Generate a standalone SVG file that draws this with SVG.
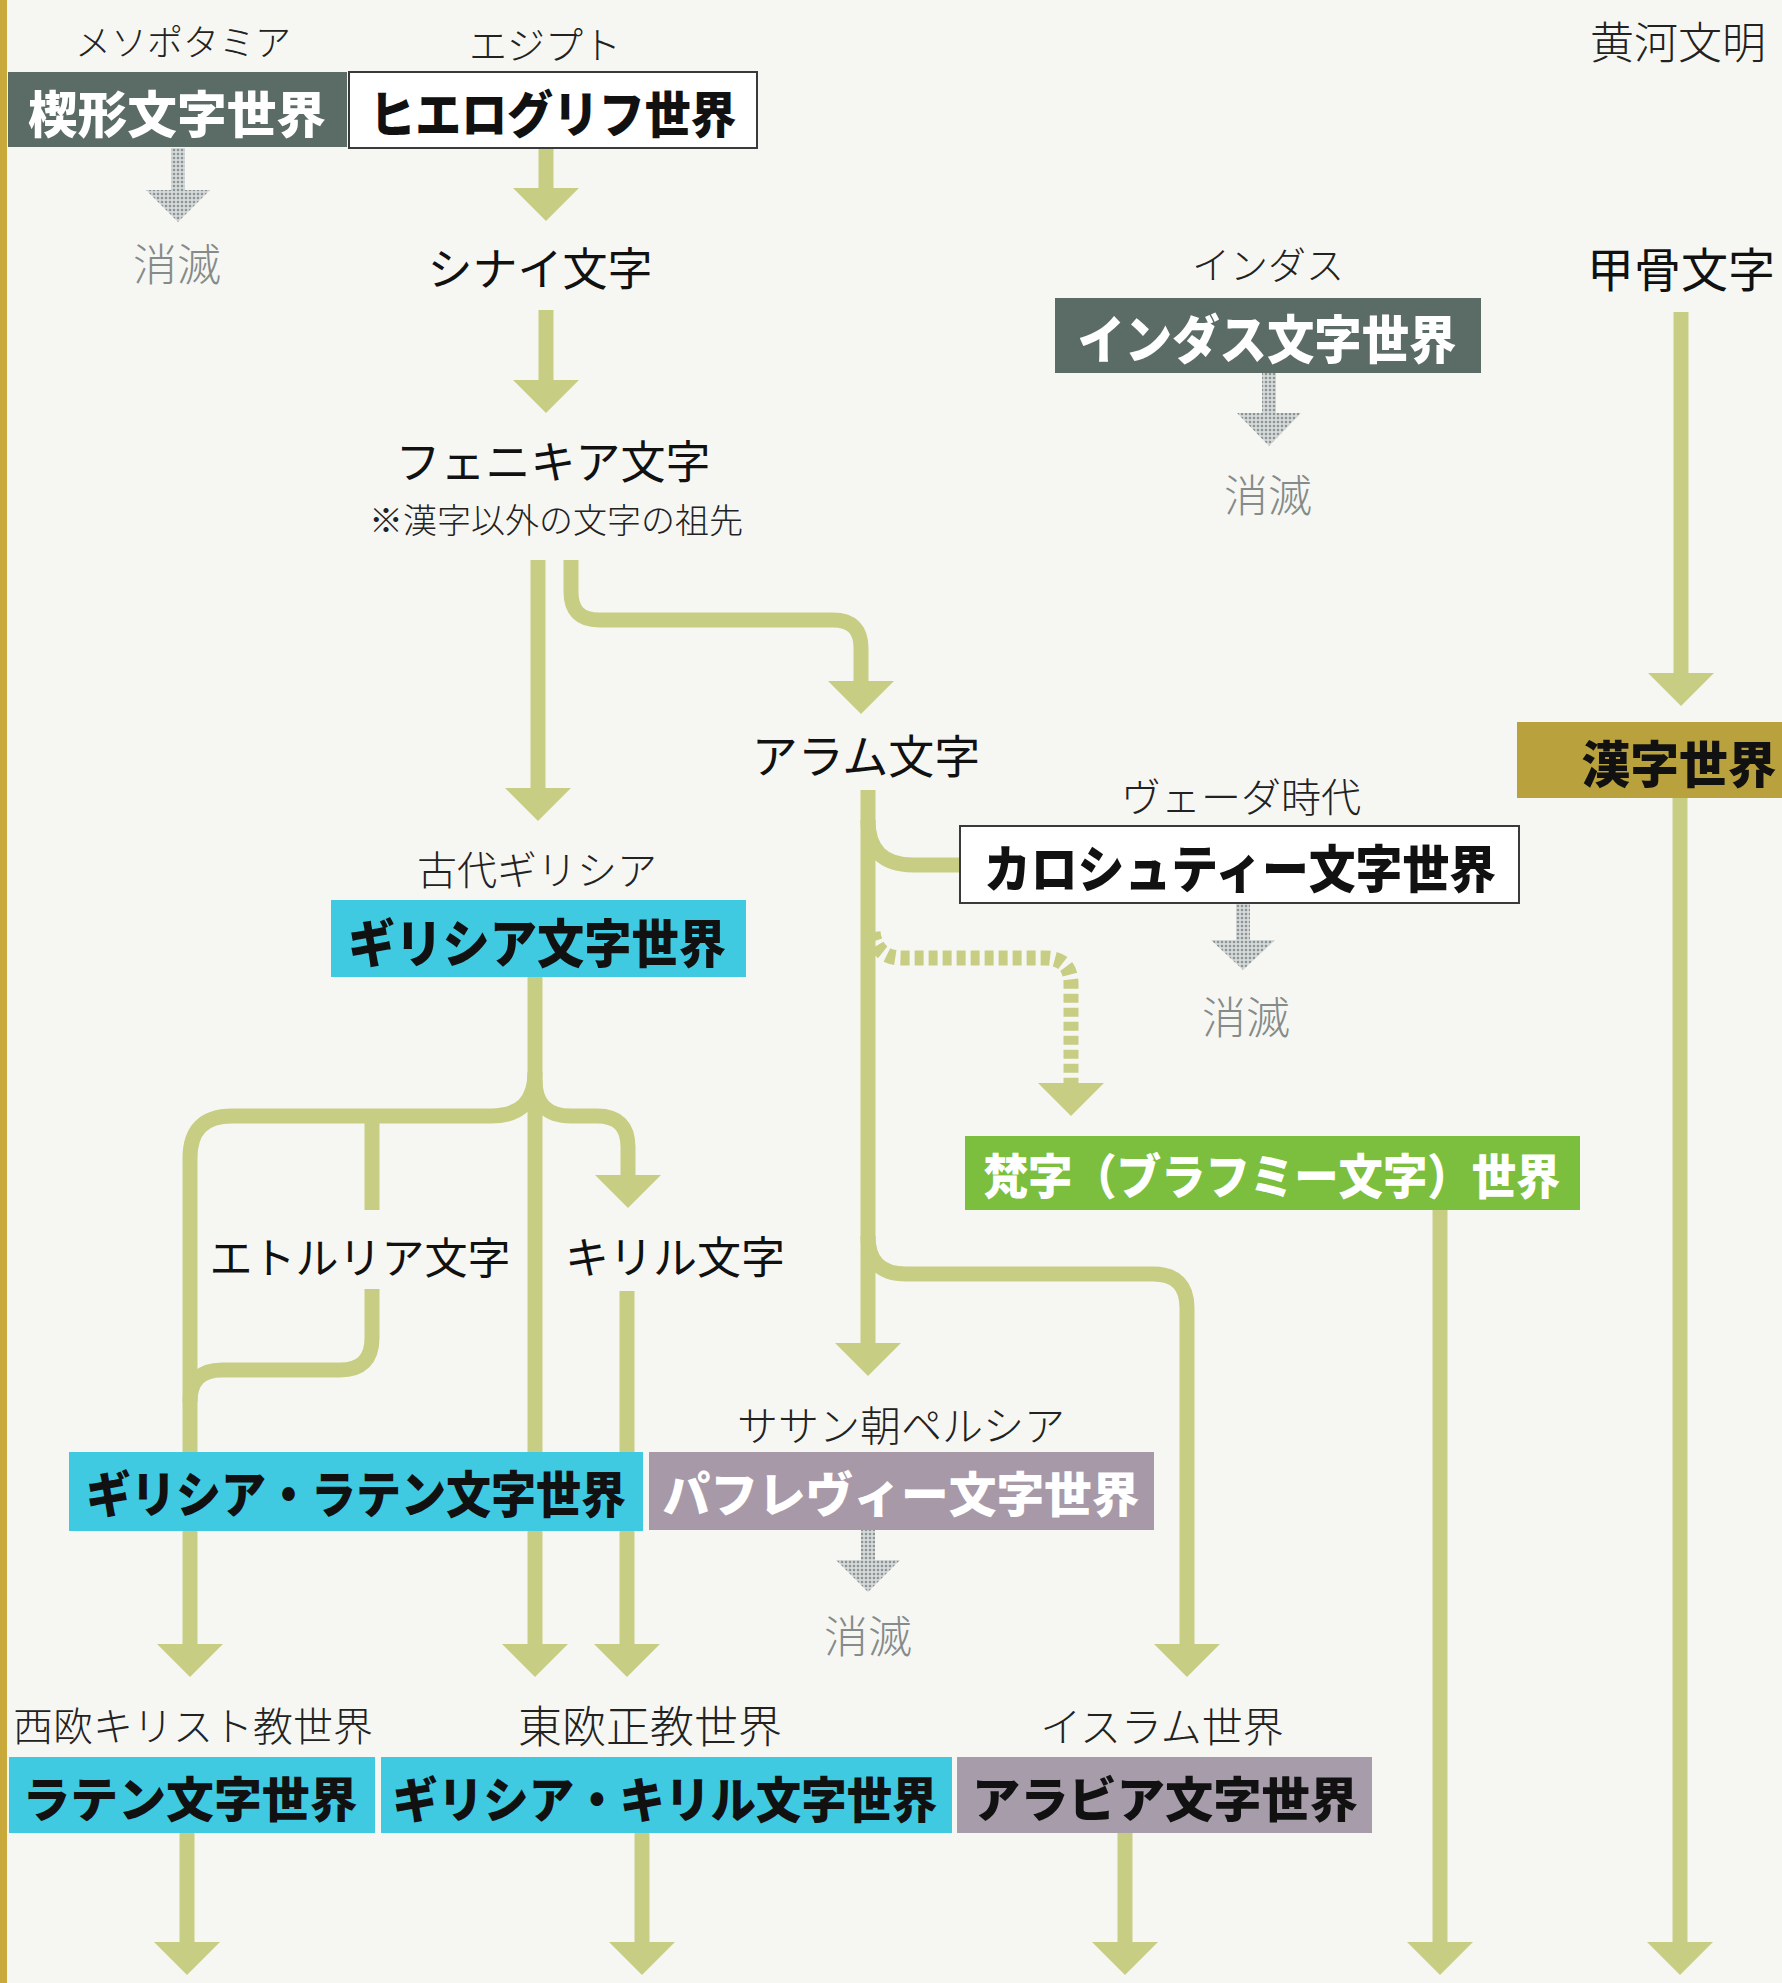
<svg xmlns="http://www.w3.org/2000/svg" width="1782" height="1983" viewBox="0 0 1782 1983">
<style>
.lbl{font-family:"Noto Sans CJK JP","Noto Sans CJK SC",sans-serif;font-weight:300;fill:#222;text-anchor:middle;dominant-baseline:central}
.txt{font-family:"Noto Sans CJK JP","Noto Sans CJK SC",sans-serif;font-weight:400;fill:#111;text-anchor:middle;dominant-baseline:central}
.bx{font-family:"Noto Sans CJK JP","Noto Sans CJK SC",sans-serif;font-weight:900;text-anchor:middle;dominant-baseline:central}
.dk{fill:#111}
.wt{fill:#fff}
.gone{font-family:"Noto Sans CJK JP","Noto Sans CJK SC",sans-serif;font-weight:300;fill:#858a8a;text-anchor:middle;dominant-baseline:central;font-size:44px}
.conn{fill:none;stroke:#c8cd84;stroke-width:15;marker-end:url(#ah)}
.plain{fill:none;stroke:#c8cd84;stroke-width:15}
.dash{fill:none;stroke:#c8cd84;stroke-width:15;stroke-dasharray:9 5;marker-end:url(#ah)}
.gray{fill:url(#dots)}
</style>
<defs>
<marker id="ah" markerUnits="userSpaceOnUse" markerWidth="34" markerHeight="66" viewBox="0 0 34 66" refX="1" refY="33" orient="auto">
<path d="M0,0 L33,33 L0,66 Z" fill="#c8cd84"/>
</marker>
<pattern id="dots" width="4" height="4" patternUnits="userSpaceOnUse">
<rect width="4" height="4" fill="#d5d9d9"/>
<circle cx="2" cy="2" r="1.3" fill="#8d9494"/>
</pattern>
</defs>
<rect width="1782" height="1983" fill="#f6f7f3"/>
<rect x="0" y="0" width="7" height="1983" fill="#c9a93a"/>

<g id="connectors">
<path class="conn" d="M546,148 V189"/>
<path class="conn" d="M546,310 V381"/>
<path class="conn" d="M538,560 V789"/>
<path class="conn" d="M571,560 V592 Q571,620 599,620 H833 Q861,620 861,648 V682"/>
<path class="conn" d="M868,790 V1344"/>
<path class="plain" d="M868,820 Q868,865 913,865 H960"/>
<path class="dash" d="M873,932 Q876,958 902,958 H1045 Q1071,958 1071,984 V1084"/>
<path class="conn" d="M868,1236 Q868,1274 906,1274 H1153 Q1187,1274 1187,1308 V1645"/>
<path class="conn" d="M535,977 V1645"/>
<path class="conn" d="M535,1072 Q535,1116 491,1116 H232 Q190,1116 190,1158 V1645"/>
<path class="plain" d="M372,1116 V1210"/>
<path class="plain" d="M372,1289 V1338 Q372,1370 340,1370 H222 Q190,1370 190,1402"/>
<path class="conn" d="M535,1080 Q535,1116 571,1116 H597 Q628,1116 628,1147 V1176"/>
<path class="conn" d="M627,1291 V1645"/>
<path class="conn" d="M1681,312 V674"/>
<path class="conn" d="M1680,797 V1943"/>
<path class="conn" d="M1440,1204 V1943"/>
<path class="conn" d="M187,1833 V1943"/>
<path class="conn" d="M642,1833 V1943"/>
<path class="conn" d="M1125,1833 V1943"/>
<g id="fade-arrows">
<rect class="gray" x="171" y="148" width="14" height="42"/>
<polygon class="gray" points="146,190 210,190 178,222"/>
<rect class="gray" x="1262" y="373" width="14" height="40"/>
<polygon class="gray" points="1237,413 1301,413 1269,446"/>
<rect class="gray" x="1236" y="903" width="14" height="37"/>
<polygon class="gray" points="1211,940 1275,940 1243,970"/>
<rect class="gray" x="861" y="1530" width="14" height="30"/>
<polygon class="gray" points="836,1560 900,1560 868,1592"/>
</g>
</g>

<g id="mesopotamia-label"><text class="lbl" x="183" y="40" font-size="36">メソポタミア</text></g>
<g id="cuneiform"><rect x="8" y="72" width="339" height="75" fill="#5b6b66"/><text class="bx wt" x="177" y="111" font-size="50" textLength="298" lengthAdjust="spacingAndGlyphs">楔形文字世界</text></g>
<g id="egypt-label"><text class="lbl" x="545" y="42" font-size="38">エジプト</text></g>
<g id="hieroglyph"><rect x="349" y="72" width="408" height="76" fill="#fff" stroke="#3a3a3a" stroke-width="2"/><text class="bx dk" x="553" y="111" font-size="50" textLength="367" lengthAdjust="spacingAndGlyphs">ヒエログリフ世界</text></g>
<g id="cuneiform-gone"><text class="gone" x="177" y="262">消滅</text></g>
<g id="sinai"><text class="txt" x="540" y="266" font-size="45">シナイ文字</text></g>
<g id="phoenician"><text class="txt" x="553" y="459" font-size="45">フェニキア文字</text><text class="lbl" x="556" y="518" font-size="34">※漢字以外の文字の祖先</text></g>
<g id="indus-label"><text class="lbl" x="1268" y="262" font-size="38">インダス</text></g>
<g id="indus"><rect x="1055" y="298" width="426" height="75" fill="#5b6b66"/><text class="bx wt" x="1267" y="336" font-size="52" textLength="379" lengthAdjust="spacingAndGlyphs">インダス文字世界</text></g>
<g id="indus-gone"><text class="gone" x="1268" y="493">消滅</text></g>
<g id="huanghe-label"><text class="lbl" x="1678" y="40" font-size="44">黄河文明</text></g>
<g id="oracle"><text class="txt" x="1681" y="266" font-size="47">甲骨文字</text></g>
<g id="kanji"><rect x="1517" y="722" width="265" height="76" fill="#b9a13e"/><text class="bx dk" x="1679" y="761" font-size="50" textLength="195" lengthAdjust="spacingAndGlyphs">漢字世界</text></g>
<g id="aramaic"><text class="txt" x="866" y="753" font-size="46">アラム文字</text></g>
<g id="greece-label"><text class="lbl" x="537" y="868" font-size="40">古代ギリシア</text></g>
<g id="greek"><rect x="331" y="900" width="415" height="77" fill="#3fcae2"/><text class="bx dk" x="537" y="940" font-size="52" textLength="378" lengthAdjust="spacingAndGlyphs">ギリシア文字世界</text></g>
<g id="veda-label"><text class="lbl" x="1241" y="795" font-size="40">ヴェーダ時代</text></g>
<g id="kharosthi"><rect x="960" y="826" width="559" height="77" fill="#fff" stroke="#3a3a3a" stroke-width="2"/><text class="bx dk" x="1240" y="866" font-size="51" textLength="512" lengthAdjust="spacingAndGlyphs">カロシュティー文字世界</text></g>
<g id="kharosthi-gone"><text class="gone" x="1246" y="1015">消滅</text></g>
<g id="brahmi"><rect x="965" y="1136" width="615" height="74" fill="#7cbf3e"/><text class="bx wt" x="1272" y="1173" font-size="48" textLength="577" lengthAdjust="spacingAndGlyphs">梵字（ブラフミー文字）世界</text></g>
<g id="etruscan"><text class="txt" x="360" y="1255" font-size="43">エトルリア文字</text></g>
<g id="cyrillic"><text class="txt" x="675" y="1255" font-size="44">キリル文字</text></g>
<g id="sassanid-label"><text class="lbl" x="901" y="1423" font-size="41">ササン朝ペルシア</text></g>
<g id="greco-latin"><rect x="69" y="1452" width="574" height="79" fill="#3fcae2"/><text class="bx dk" x="356" y="1491" font-size="50" textLength="540" lengthAdjust="spacingAndGlyphs">ギリシア・ラテン文字世界</text></g>
<g id="pahlavi"><rect x="649" y="1452" width="505" height="78" fill="#a899a8"/><text class="bx wt" x="901" y="1491" font-size="48" textLength="477" lengthAdjust="spacingAndGlyphs">パフレヴィー文字世界</text></g>
<g id="pahlavi-gone"><text class="gone" x="868" y="1634">消滅</text></g>
<g id="west-label"><text class="lbl" x="193" y="1724" font-size="40">西欧キリスト教世界</text></g>
<g id="east-label"><text class="lbl" x="650" y="1724" font-size="44">東欧正教世界</text></g>
<g id="islam-label"><text class="lbl" x="1162" y="1724" font-size="41">イスラム世界</text></g>
<g id="latin"><rect x="9" y="1757" width="366" height="76" fill="#3fcae2"/><text class="bx dk" x="190" y="1796" font-size="48" textLength="335" lengthAdjust="spacingAndGlyphs">ラテン文字世界</text></g>
<g id="greco-cyrillic"><rect x="381" y="1757" width="571" height="76" fill="#3fcae2"/><text class="bx dk" x="665" y="1796" font-size="49" textLength="545" lengthAdjust="spacingAndGlyphs">ギリシア・キリル文字世界</text></g>
<g id="arabic"><rect x="957" y="1757" width="415" height="76" fill="#a69caa"/><text class="bx dk" x="1165" y="1796" font-size="48" textLength="386" lengthAdjust="spacingAndGlyphs">アラビア文字世界</text></g>
</svg>
